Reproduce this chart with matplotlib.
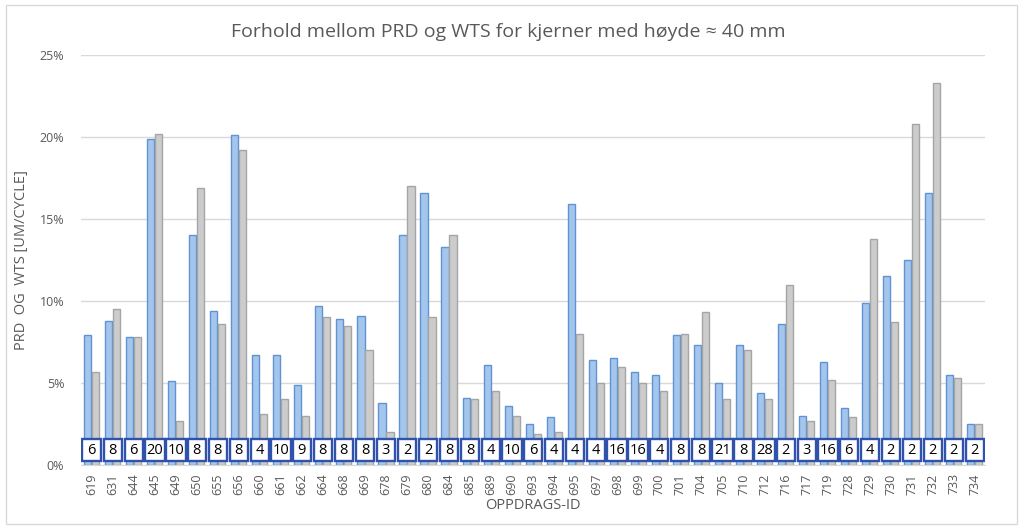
import matplotlib.pyplot as plt
from matplotlib.patches import Rectangle
import numpy as np

ids = ["619", "631", "644", "645", "649", "650", "655", "656", "660", "661",
       "662", "664", "668", "669", "678", "679", "680", "684", "685", "689",
       "690", "693", "694", "695", "697", "698", "699", "700", "701", "704",
       "705", "710", "712", "716", "717", "719", "728", "729", "730", "731",
       "732", "733", "734"]
prd = [7.9, 8.8, 7.8, 19.9, 5.1, 14.0, 9.4, 20.1, 6.7, 6.7,
       4.9, 9.7, 8.9, 9.1, 3.8, 14.0, 16.6, 13.3, 4.1, 6.1,
       3.6, 2.5, 2.9, 15.9, 6.4, 6.5, 5.7, 5.5, 7.9, 7.3,
       5.0, 7.3, 4.4, 8.6, 3.0, 6.3, 3.5, 9.9, 11.5, 12.5,
       16.6, 5.5, 2.5]
wts = [5.7, 9.5, 7.8, 20.2, 2.7, 16.9, 8.6, 19.2, 3.1, 4.0,
       3.0, 9.0, 8.5, 7.0, 2.0, 17.0, 9.0, 14.0, 4.0, 4.5,
       3.0, 1.9, 2.0, 8.0, 5.0, 6.0, 5.0, 4.5, 8.0, 9.3,
       4.0, 7.0, 4.0, 11.0, 2.7, 5.2, 2.9, 13.8, 8.7, 20.8,
       23.3, 5.3, 2.5]
n_cores = [6, 8, 6, 20, 10, 8, 8, 8, 4, 10, 9, 8, 8, 8, 3, 2, 2, 8, 8, 4,
           10, 6, 4, 4, 4, 16, 16, 4, 8, 8, 21, 8, 28, 2, 3, 16, 6, 4, 2, 2,
           2, 2, 2]

TEXT = "#595959"
FONT = ["Open Sans", "DejaVu Sans"]
plt.rcParams["font.family"] = FONT

fig = plt.figure(figsize=(10.23, 5.28), dpi=100)
fig.patches.append(Rectangle((0.006, 0.008), 0.988, 0.982, transform=fig.transFigure,
                             fill=False, edgecolor="#d9d9d9", linewidth=1.0))
ax = fig.add_axes([0.0792, 0.1193, 0.884, 0.7767])

x = np.arange(len(ids))
w = 0.34
ax.bar(x - w / 2 - 0.02, prd, width=w, color="#a4c6ec", edgecolor="#5f93d3", linewidth=1.0, zorder=2)
ax.bar(x + w / 2 + 0.02, wts, width=w, color="#cccccc", edgecolor="#a5a5a5", linewidth=1.0, zorder=2)

# count boxes sitting on the baseline
box_lo, box_hi = 0.25, 1.58
for xi, n in zip(x, n_cores):
    bw = 0.86 if n < 10 else 0.96
    ax.add_patch(Rectangle((xi - bw / 2, box_lo), bw, box_hi - box_lo, facecolor="white",
                           edgecolor="#2f52ad", linewidth=1.7, zorder=3))
    ax.text(xi, (box_lo + box_hi) / 2, str(n), ha="center", va="center", fontsize=10.5,
            color="black", zorder=4)

ax.set_xlim(-0.5, len(ids) - 0.5)
ax.set_ylim(0, 25)
ax.set_yticks([0, 5, 10, 15, 20, 25])
ax.set_yticklabels([f"{v}%" for v in [0, 5, 10, 15, 20, 25]])
ax.set_xticks(x)
ax.set_xticklabels(ids, rotation=90)
ax.tick_params(axis="both", length=0, colors=TEXT, labelsize=9)
ax.tick_params(axis="y", pad=12)
ax.tick_params(axis="x", pad=6)
ax.grid(axis="y", color="#d9d9d9", linewidth=1.0, zorder=0)
for s in ["top", "right", "left"]:
    ax.spines[s].set_visible(False)
ax.spines["bottom"].set_color("#d9d9d9")

ax.set_xlabel("OPPDRAGS-ID", fontsize=10.5, color=TEXT, labelpad=2)
ax.set_ylabel("PRD  OG  WTS [UM/CYCLE]", fontsize=10.5, color=TEXT, labelpad=8)
fig.text(0.497, 0.94, "Forhold mellom PRD og WTS for kjerner med høyde \u2248 40 mm",
         ha="center", va="center", fontsize=14, color=TEXT)

fig.savefig("out.png", dpi=100)
